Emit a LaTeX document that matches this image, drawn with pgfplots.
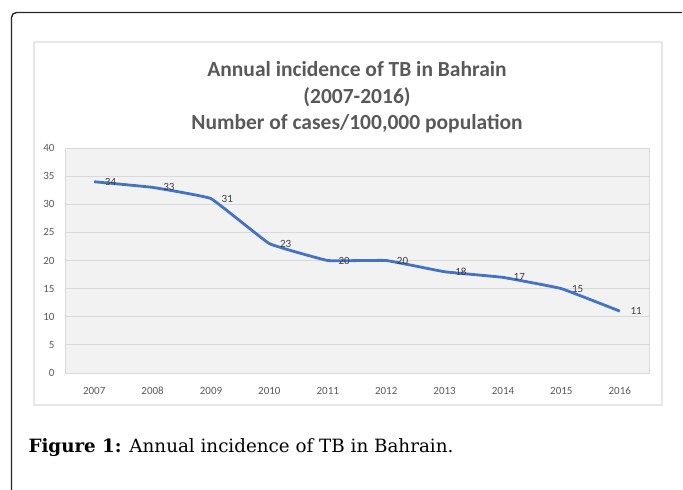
\documentclass[border=0pt]{standalone}
\usepackage{fontspec}
\setmainfont{Carlito}
\newfontfamily\capfont{DejaVu Serif}
\usepackage{pgfplots}
\pgfplotsset{compat=1.18}
\definecolor{txtgray}{HTML}{595959}
\definecolor{lblgray}{HTML}{404040}
\definecolor{linblue}{HTML}{4472C4}
\definecolor{gridgray}{HTML}{D9D9D9}
\definecolor{bggray}{HTML}{F2F2F2}
\definecolor{boxgray}{HTML}{E6E6E6}
\begin{document}
\begin{tikzpicture}[x=1pt,y=1pt]
\useasboundingbox (0,0) rectangle (683,-490);
\draw[line width=1.4pt, rounded corners=5pt, black!85] (11.5,-490) -- (11.5,-12.5) -- (682,-12.5);
\draw[line width=1.2pt, boxgray] (34,-42) rectangle (662,-405);
\node[font=\bfseries\fontsize{21.5}{24}\selectfont, text=txtgray, anchor=base] at (357,-76) {Annual incidence of TB in Bahrain};
\node[font=\bfseries\fontsize{21.5}{24}\selectfont, text=txtgray, anchor=base] at (357,-103) {(2007-2016)};
\node[font=\bfseries\fontsize{21.5}{24}\selectfont, text=txtgray, anchor=base] at (357,-129) {Number of cases/100,000 population};
\begin{axis}[
  at={(65pt,-373pt)}, anchor=south west,
  scale only axis, width=584pt, height=225pt,
  xmin=2006.5, xmax=2016.5, ymin=0, ymax=40,
  xtick={2007,2008,...,2016}, ytick={0,5,...,40},
  /pgf/number format/assume math mode=true,
  xticklabel style={/pgf/number format/set thousands separator={}, anchor=base, yshift=-21pt},
  yticklabel style={xshift=-7pt},
  axis background/.style={fill=bggray},
  axis line style={gridgray, line width=0.8pt},
  ymajorgrids, grid style={gridgray, line width=0.8pt},
  major tick length=0pt, tick style={draw=none},
  ticklabel style={font=\fontsize{11}{13}\selectfont, text=txtgray},
  nodes near coords,
  every node near coord/.append style={anchor=west, xshift=6pt, font=\fontsize{11}{13}\selectfont, text=lblgray},
]
\addplot[linblue, line width=2.8pt, line join=round, smooth, tension=0.15, mark=none] coordinates {
(2007,34) (2008,33) (2009,31) (2010,23) (2011,20) (2012,20) (2013,18) (2014,17) (2015,15) (2016,11)
};
\end{axis}
\node[anchor=base west, font=\capfont\fontsize{18.3}{22}\selectfont] at (25,-452) {\textbf{Figure 1:} Annual incidence of TB in Bahrain.};
\end{tikzpicture}
\end{document}
